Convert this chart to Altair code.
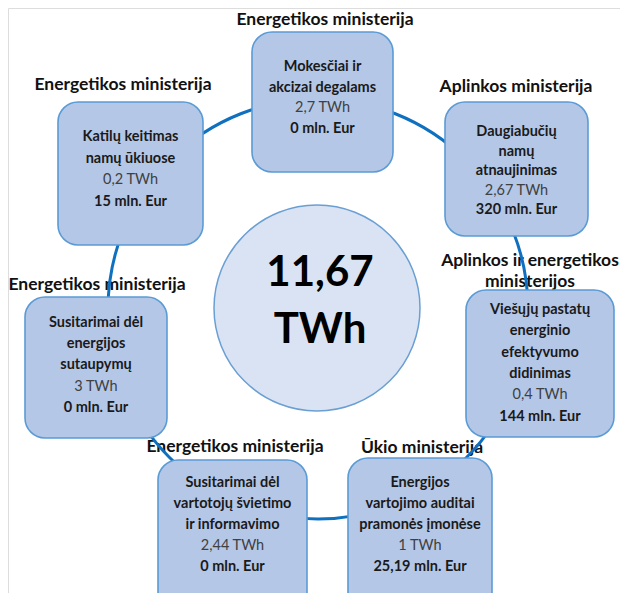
import altair as alt
import pandas as pd

# ---- content ----
ministries = [
    ["Energetikos ministerija"],
    ["Aplinkos ministerija"],
    ["Aplinkos ir energetikos", "ministerijos"],
    ["Ūkio ministerija"],
    ["Energetikos ministerija"],
    ["Energetikos ministerija"],
    ["Energetikos ministerija"],
]
measures = [
    ["Mokesčiai ir", "akcizai degalams"],
    ["Daugiabučių", "namų", "atnaujinimas"],
    ["Viešųjų pastatų", "energinio", "efektyvumo", "didinimas"],
    ["Energijos", "vartojimo auditai", "pramonės įmonėse"],
    ["Susitarimai dėl", "vartotojų švietimo", "ir informavimo"],
    ["Susitarimai dėl", "energijos", "sutaupymų"],
    ["Katilų keitimas", "namų ūkiuose"],
]
twh = ["2,7", "2,67", "0,4", "1", "2,44", "3", "0,2"]
eur = ["0", "320", "144", "25,19", "0", "0", "15"]
total_twh = "11,67"

# ---- layout (pixel coordinates of the diagram) ----
box_x0 = [252, 445, 466, 348, 158, 25, 58]
box_x1 = [393, 588, 614, 492, 307, 167, 203]
box_y0 = [32, 102, 290, 458, 460, 297, 102]
box_y1 = [172, 236, 437, 620, 620, 438, 245]
text_y0 = [67, 132, 310, 483, 483, 323, 137]
line_h = [20.5, 19.5, 21.3, 21, 21, 21.2, 21.5]
label_x = [325, 516, 530, 422, 235, 97, 123]
label_y = [20, 87, 261, 448, 447, 285, 85]
LABEL_LH = 21
RING = dict(x=318, y=309)
HUB = dict(x=317, y=308)

W, H = 612, 585
xs = alt.Scale(domain=[8, 8 + W], nice=False, zero=False)
ys = alt.Scale(domain=[8, 8 + H], nice=False, zero=False, reverse=True)
X = lambda f: alt.X(f, type="quantitative", scale=xs, axis=None)
Y = lambda f: alt.Y(f, type="quantitative", scale=ys, axis=None)

FONT = "Lato"
BOX_FILL = "#b4c7e7"
BOX_STROKE = "#5b9bd5"
RING_COLOR = "#0f70c0"

boxes = pd.DataFrame({"x0": box_x0, "x1": box_x1, "y0": box_y0, "y1": box_y1})

lab_rows = []
for i, lines in enumerate(ministries):
    for j, t in enumerate(lines):
        lab_rows.append({"x": label_x[i], "y": label_y[i] + j * LABEL_LH, "t": t})
labels = pd.DataFrame(lab_rows)

title_rows, val_rows, eur_rows = [], [], []
for i, lines in enumerate(measures):
    cx = (box_x0[i] + box_x1[i]) / 2
    for j, t in enumerate(lines):
        title_rows.append({"x": cx, "y": text_y0[i] + j * line_h[i], "t": t})
    n = len(lines)
    val_rows.append({"x": cx, "y": text_y0[i] + n * line_h[i], "t": f"{twh[i]} TWh"})
    eur_rows.append({"x": cx, "y": text_y0[i] + (n + 1) * line_h[i], "t": f"{eur[i]} mln. Eur"})
titles = pd.DataFrame(title_rows)
vals = pd.DataFrame(val_rows)
eurs = pd.DataFrame(eur_rows)

ring_df = pd.DataFrame([RING])
hub_df = pd.DataFrame([HUB])
hub_text = pd.DataFrame([
    {"x": 320, "y": 273, "t": total_twh},
    {"x": 320, "y": 330, "t": "TWh"},
])

label_layer = alt.Chart(labels).mark_text(
    font=FONT, fontSize=17.5, fontWeight="bold", color="#111111", baseline="middle", align="center"
).encode(x=X("x"), y=Y("y"), text="t:N")

ring_layer = alt.Chart(ring_df).mark_point(
    shape="circle", filled=False, size=420 * 420, strokeWidth=3, color=RING_COLOR, opacity=1
).encode(x=X("x"), y=Y("y"))

hub_layer = alt.Chart(hub_df).mark_point(
    shape="circle", filled=True, size=206 * 206, fill="#dae3f3", fillOpacity=1,
    stroke="#6a9fd3", strokeWidth=1.5, opacity=1
).encode(x=X("x"), y=Y("y"))

hub_text_layer = alt.Chart(hub_text).mark_text(
    font=FONT, fontSize=42, fontWeight="bold", color="#000000", baseline="middle", align="center"
).encode(x=X("x"), y=Y("y"), text="t:N")

box_layer = alt.Chart(boxes).mark_rect(
    cornerRadius=20, fill=BOX_FILL, stroke=BOX_STROKE, strokeWidth=1.6, clip=True
).encode(x=X("x0"), x2="x1", y=Y("y0"), y2="y1")

title_layer = alt.Chart(titles).mark_text(
    font=FONT, fontSize=14.5, fontWeight="bold", color="#1a1a1a", baseline="middle", align="center"
).encode(x=X("x"), y=Y("y"), text="t:N")

val_layer = alt.Chart(vals).mark_text(
    font=FONT, fontSize=14.5, fontWeight="normal", color="#404040", baseline="middle", align="center"
).encode(x=X("x"), y=Y("y"), text="t:N")

eur_layer = alt.Chart(eurs).mark_text(
    font=FONT, fontSize=14.5, fontWeight="bold", color="#1a1a1a", baseline="middle", align="center"
).encode(x=X("x"), y=Y("y"), text="t:N")

chart = alt.layer(
    label_layer, ring_layer, hub_layer, hub_text_layer, box_layer, title_layer, val_layer, eur_layer
).properties(
    width=W, height=H, padding=0, autosize=alt.AutoSizeParams(type="none")
).configure_view(stroke=None).configure(background="white")

chart.save("out.html", embed_options={"renderer": "svg", "actions": False})
